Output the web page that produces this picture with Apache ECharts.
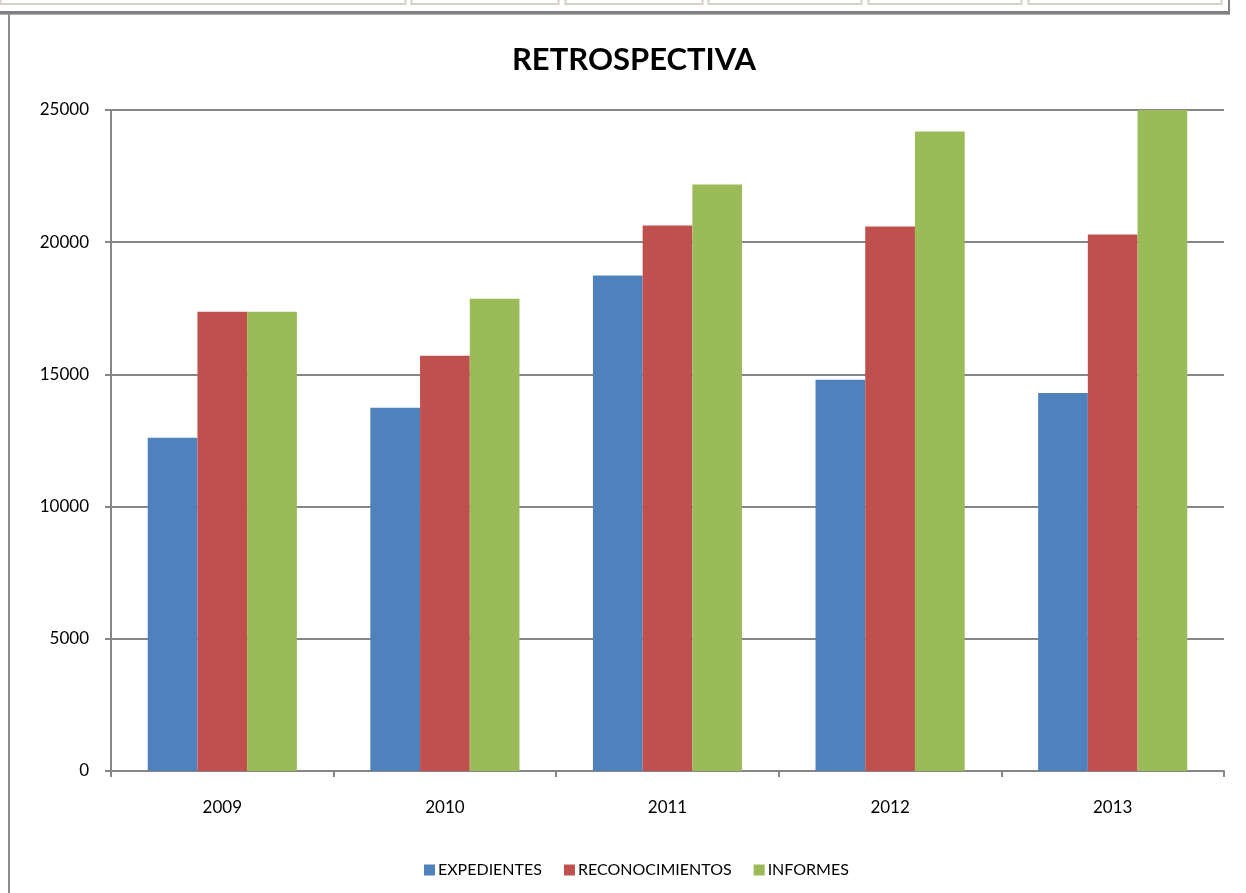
<!DOCTYPE html>
<html>
<head>
<meta charset="utf-8">
<title>RETROSPECTIVA</title>
<script src="https://cdn.jsdelivr.net/npm/echarts@6/dist/echarts.min.js"></script>
<style>
    html, body { margin: 0; padding: 0; background: #fff; }
    #chart { width: 1246px; height: 893px; }
</style>
</head>
<body>
<div id="chart"></div>
<script>
// datos
const years = ['2009', '2010', '2011', '2012', '2013'];
const expedientes = [12600, 13740, 18740, 14800, 14300];
const reconocimientos = [17370, 15710, 20630, 20590, 20290];
const informes = [17370, 17860, 22180, 24190, 25000];
const yTicks = [0, 5000, 10000, 15000, 20000, 25000];

const seriesNames = ['EXPEDIENTES', 'RECONOCIMIENTOS', 'INFORMES'];
const seriesColors = ['#4f81bd', '#c0504d', '#9bbb59'];
const seriesData = [expedientes, reconocimientos, informes];

const font = 'Lato, "Open Sans", sans-serif';

// celdas de la hoja que asoman por arriba
const topCells = [[0, 405], [411, 558], [565, 702], [708, 861], [868, 1021], [1028, 1221]];

const chart = echarts.init(document.getElementById('chart'));

const frame = topCells.map(c => ({
    type: 'rect',
    shape: { x: c[0] + 0.5, y: -2, width: c[1] - c[0], height: 6 },
    style: { fill: '#fff', stroke: '#d4d0c8', lineWidth: 2 }
}));
frame.push(
    { type: 'rect', shape: { x: 0, y: 11, width: 1230, height: 3 }, style: { fill: '#808080' } },
    { type: 'rect', shape: { x: 0, y: 14, width: 1230, height: 1 }, style: { fill: '#b0b0b0' } },
    { type: 'rect', shape: { x: 1228, y: 0, width: 2, height: 14 }, style: { fill: '#808080' } },
    { type: 'rect', shape: { x: 8, y: 14, width: 2, height: 879 }, style: { fill: '#8c8c8c' } }
);

const option = {
    backgroundColor: '#fff',
    animation: false,
    title: {
        text: 'RETROSPECTIVA',
        left: 629,
        textAlign: 'center',
        top: 39,
        textStyle: { fontFamily: font, fontSize: 31, fontWeight: 'bold', color: '#000' }
    },
    legend: {
        data: seriesNames,
        left: 419,
        top: 857,
        icon: 'rect',
        itemWidth: 11,
        itemHeight: 11,
        itemGap: 22,
        textStyle: { fontFamily: font, fontSize: 16, color: '#000', padding: [0, 0, 0, -2] }
    },
    grid: { left: 111, right: 22, top: 110, bottom: 122 },
    xAxis: {
        type: 'category',
        data: years,
        axisLine: { lineStyle: { color: '#868686', width: 2 } },
        axisTick: { show: true, length: 6, lineStyle: { color: '#868686', width: 2 } },
        axisLabel: { fontFamily: font, fontSize: 17, color: '#000', margin: 28 }
    },
    yAxis: {
        type: 'value',
        min: yTicks[0],
        max: yTicks[yTicks.length - 1],
        interval: 5000,
        axisLine: { show: true, lineStyle: { color: '#868686', width: 2 } },
        axisTick: { show: true, length: 6, lineStyle: { color: '#868686', width: 2 } },
        axisLabel: {
            fontFamily: font, fontSize: 17, color: '#000', margin: 22,
            formatter: v => String(v)
        },
        splitLine: { lineStyle: { color: '#868686', width: 2 } }
    },
    series: seriesNames.map((name, i) => ({
        name: name,
        type: 'bar',
        data: seriesData[i],
        barGap: '0%',
        barCategoryGap: '33%',
        itemStyle: { color: seriesColors[i] }
    })),
    graphic: frame
};

chart.setOption(option);
</script>
</body>
</html>
